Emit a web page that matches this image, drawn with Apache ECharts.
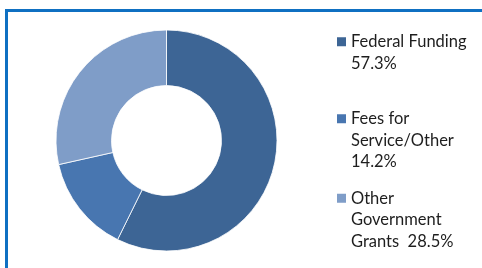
<!DOCTYPE html>
<html>
<head>
<meta charset="utf-8">
<script src="https://cdn.jsdelivr.net/npm/echarts@6/dist/echarts.min.js"></script>
<style>
  html, body { margin: 0; padding: 0; background: #fff; }
  #main { width: 482px; height: 268px; }
</style>
</head>
<body>
<div id="main"></div>
<script>
const categories = ['Federal Funding', 'Fees for Service/Other', 'Other Government Grants']
const shares = [57.3, 14.2, 28.5]
// legend text as wrapped in the picture
const legendText = ['Federal Funding\n57.3%', 'Fees for\nService/Other\n14.2%', 'Other\nGovernment\nGrants  28.5%']
const colors = ['#3d6595', '#4876b0', '#7f9dc8']

const lineH = 21.5
const legendTops = [9.5, 65, 144.5]

const chart = echarts.init(document.getElementById('main'))

const legends = categories.map((name, i) => {
  const lines = legendText[i].split('\n').length
  // blank lines on top so the first text line sits beside the square
  const text = '\n'.repeat(lines - 1) + legendText[i]
  return {
    left: 337,
    top: legendTops[i],
    padding: 0,
    orient: 'vertical',
    icon: 'rect',
    itemWidth: 9,
    itemHeight: 9,
    itemStyle: { borderWidth: 0 },
    selectedMode: false,
    data: [name],
    formatter: () => text,
    textStyle: {
      fontFamily: 'Lato',
      fontSize: 16.5,
      color: '#1e1e1e',
      lineHeight: lineH
    }
  }
})

const option = {
  animation: false,
  color: colors,
  graphic: [{
    type: 'rect',
    shape: { x: 6.5, y: 10.5, width: 600, height: 400 },
    style: { fill: 'none', stroke: '#0f70c2', lineWidth: 3 },
    silent: true
  }],
  legend: legends,
  series: [{
    type: 'pie',
    center: [166.5, 140.5],
    radius: [55, 110.5],
    startAngle: 90,
    clockwise: true,
    label: { show: false },
    labelLine: { show: false },
    emphasis: { disabled: true },
    itemStyle: { borderColor: '#fff', borderWidth: 0.8 },
    data: categories.map((name, i) => ({ name, value: shares[i] }))
  }]
}

chart.setOption(option)
</script>
</body>
</html>
